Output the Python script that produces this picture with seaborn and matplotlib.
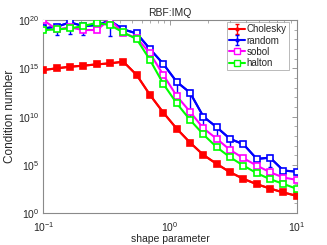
import numpy as np
import pandas as pd
import matplotlib
matplotlib.use("Agg")
import matplotlib.pyplot as plt
import seaborn as sns
from matplotlib.lines import Line2D
from matplotlib.ticker import LogLocator, NullFormatter

# ---- data (log10 of condition number) ----
shape_param = [0.1, 0.1274, 0.1624, 0.2069, 0.2637, 0.3360, 0.4281, 0.5456,
               0.6952, 0.8859, 1.1288, 1.4384, 1.8330, 2.3357, 2.9764, 3.7927,
               4.8329, 6.1585, 7.8476, 10.0]
chol_exp = [14.83, 15.0, 15.17, 15.28, 15.41, 15.52, 15.69, 14.31, 12.24, 10.41,
            8.75, 7.31, 6.03, 5.10, 4.24, 3.55, 3.0, 2.55, 2.14, 1.79]
random_exp = [19.14, 19.31, 19.76, 19.38, 19.48, 19.93, 19.03, 18.62, 17.0, 15.45,
              13.6, 12.48, 10.0, 8.9, 7.69, 7.14, 5.62, 5.75, 4.41, 4.3]
random_low_exp = [19.14, 18.5, 18.6, 18.45, 19.48, 18.4, 19.03, 18.62, 17.0, 15.45,
                  12.4, 9.65, 8.9, 7.93, 6.89, 7.14, 5.62, 4.76, 4.41, 4.3]
sobol_exp = [20.0, 19.03, 19.24, 18.97, 18.97, 20.07, 18.62, 18.17, 16.55, 14.31,
             12.14, 10.5, 8.79, 7.7, 6.55, 5.69, 4.93, 4.24, 3.69, 3.45]
halton_exp = [18.97, 19.03, 19.14, 19.38, 19.72, 19.48, 18.72, 18.03, 15.86, 13.38,
              11.38, 9.66, 8.15, 6.83, 5.79, 4.93, 4.14, 3.52, 3.03, 2.52]
labels = ["Cholesky", "random", "sobol", "halton"]
colors = ["#ff0000", "#0000ff", "#ff00ff", "#00ff00"]

sns.set_style("white")
plt.rcParams["font.family"] = ["Liberation Sans", "DejaVu Sans"]
plt.rcParams["mathtext.fontset"] = "custom"
plt.rcParams["mathtext.rm"] = "Liberation Sans"
plt.rcParams["mathtext.it"] = "Liberation Sans"

fig = plt.figure(figsize=(3.27, 2.45), dpi=100)
ax = fig.add_axes([0.1325, 0.13, 0.775, 0.788])
ax.set_xscale("log")
ax.set_yscale("log")

x = np.array(shape_param)
series = [np.array(chol_exp), np.array(random_exp), np.array(sobol_exp), np.array(halton_exp)]

# error bars (Cholesky and random)
y_ch = 10 ** series[0]
eb1 = ax.errorbar(x, y_ch, yerr=[np.zeros_like(y_ch), np.zeros_like(y_ch)], fmt="-o",
                  color=colors[0], ms=2, lw=1.5, elinewidth=1, capsize=1.5, zorder=2)
y_r = 10 ** series[1]
low = 10 ** np.array(random_low_exp)
err = y_r - low
eb2 = ax.errorbar(x, y_r, yerr=[err, err], fmt="-o", color=colors[1], ms=2, lw=1.5,
                  elinewidth=1, capsize=1.5, zorder=2)

for i, (lab, col, s) in enumerate(zip(labels, colors, series)):
    df = pd.DataFrame({"shape": x, "cond": 10 ** s})
    mfc = col if i == 0 else "white"
    sns.lineplot(data=df, x="shape", y="cond", ax=ax, color=col, marker="s",
                 markersize=4.2, markerfacecolor=mfc, markeredgecolor=col,
                 markeredgewidth=1.2, linewidth=1.5, legend=False, zorder=3)

handles = [eb1, eb2,
           Line2D([], [], color=colors[2], marker="s", mfc="white", mec=colors[2], ms=4, lw=1.5),
           Line2D([], [], color=colors[3], marker="s", mfc="white", mec=colors[3], ms=4, lw=1.5)]

ax.set_xlim(0.1, 10)
ax.set_ylim(1, 1e20)
ax.set_yticks([1e0, 1e5, 1e10, 1e15, 1e20])
ax.set_yticks([10.0 ** k for k in range(0, 21) if k % 5 != 0], minor=True)
ax.yaxis.set_minor_formatter(NullFormatter())
ax.xaxis.set_minor_locator(LogLocator(base=10, subs=np.arange(2, 10), numticks=30))

grey = "#8a8a8a"
for sp in ax.spines.values():
    sp.set_color(grey)
    sp.set_linewidth(0.8)
ax.tick_params(which="both", direction="in", top=True, right=True, color=grey,
               labelsize=7.5, labelcolor="#262626")
ax.tick_params(axis="x", which="both", pad=5)
ax.tick_params(axis="y", which="both", pad=3)
ax.tick_params(which="major", length=3.5, width=0.6)
ax.tick_params(which="minor", length=2, width=0.5)

ax.set_xlabel("shape parameter", fontsize=7.5, color="#262626", labelpad=0)
ax.set_ylabel("Condition number", fontsize=8.5, color="#262626", labelpad=1)
ax.set_title("RBF:IMQ", fontsize=7.5, color="#262626", pad=3)

leg = ax.legend(handles, labels, loc="upper right", bbox_to_anchor=(0.97, 0.99),
                fontsize=7, frameon=True, fancybox=False, edgecolor="#9a9a9a",
                borderpad=0.25, labelspacing=0.12, handlelength=1.6,
                handletextpad=0.2, borderaxespad=0)
leg.get_frame().set_linewidth(0.6)

fig.savefig("out.png", dpi=100)
